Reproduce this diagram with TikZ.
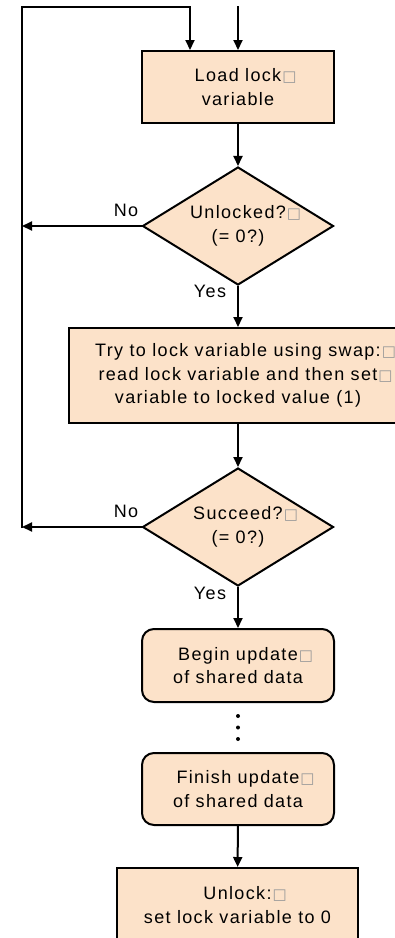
\documentclass[tikz,border=0pt]{standalone}
\usepackage{fontspec}
\usetikzlibrary{shapes.geometric,arrows.meta}
\newfontfamily\flowfont[LetterSpace=7.5]{Liberation Sans}
\newfontfamily\symfont{DejaVu Sans}
\definecolor{peach}{RGB}{252,226,201}
% line-break marker printed after a line
\newcommand\crmark{\rlap{\hspace{1pt}{\symfont\fontsize{15}{15}\selectfont\color{gray!80}□}}}
\begin{document}
\begin{tikzpicture}[x=1pt,y=-1pt,line width=2pt,
  >={Triangle[length=10pt,width=9pt]},
  every node/.style={font=\flowfont\fontsize{18}{23.5}\selectfont,align=center,inner sep=0pt},
  procbox/.style={draw,fill=peach,rectangle},
  roundbox/.style={draw,fill=peach,rectangle,rounded corners=12pt},
  decision/.style={draw,fill=peach,diamond,aspect=1.63,minimum width=191pt,minimum height=118pt},
  lbl/.style={}]
\useasboundingbox (0,0) rectangle (395,938);
\clip (0,0) rectangle (395,938);

% steps
\node[procbox,minimum width=192pt,minimum height=72pt] (load) at (238,87) {Load lock\crmark\\variable};
\node[decision] (d1) at (238,226) {Unlocked?\crmark\\(= 0?)};
\node[procbox,minimum width=338pt,minimum height=95pt] (try) at (238,375.5)
  {Try to lock variable using swap:\crmark\\read lock variable and then set\crmark\\variable to locked value (1)};
\node[decision] (d2) at (238,527) {Succeed?\crmark\\(= 0?)};
\node[roundbox,minimum width=192pt,minimum height=73pt] (begin) at (238,665.5) {Begin update\crmark\\of shared data};
\node[roundbox,minimum width=192pt,minimum height=72pt] (finish) at (238,789) {Finish update\crmark\\of shared data};
\node[procbox,minimum width=241pt,minimum height=74pt] (unlock) at (237.5,905) {Unlock:\crmark\\set lock variable to 0};

% branch labels
\node[lbl] (no1) at (126,210) {No};
\node[lbl] (yes1) at (210,291) {Yes};
\node[lbl] (no2) at (126,511) {No};
\node[lbl] (yes2) at (210,593) {Yes};

% retry loop
\coordinate (topin) at (238,6);
\coordinate (loopL) at (22,7);
\coordinate (loopR) at (190,7);
\coordinate (loopB) at (22,528);

\draw[->] (topin) -- (load.north);
\draw[->] (loopB) -- (loopL) -- (loopR) -- (loopR |- load.north);
\draw[->] (load) -- (d1);
\draw[->] (d1.west) -- (d1.west -| loopB);
\draw[->] (d1) -- (try);
\draw[->] (try) -- (d2);
\draw[->] (d2.west) -- (d2.west -| loopB);
\draw[->] (d2) -- (begin);
\draw[->] (finish) -- (unlock);

% ellipsis between the update steps
\foreach \yy in {716,727.5,739} \fill (238,\yy) circle (2pt);
\end{tikzpicture}
\end{document}
